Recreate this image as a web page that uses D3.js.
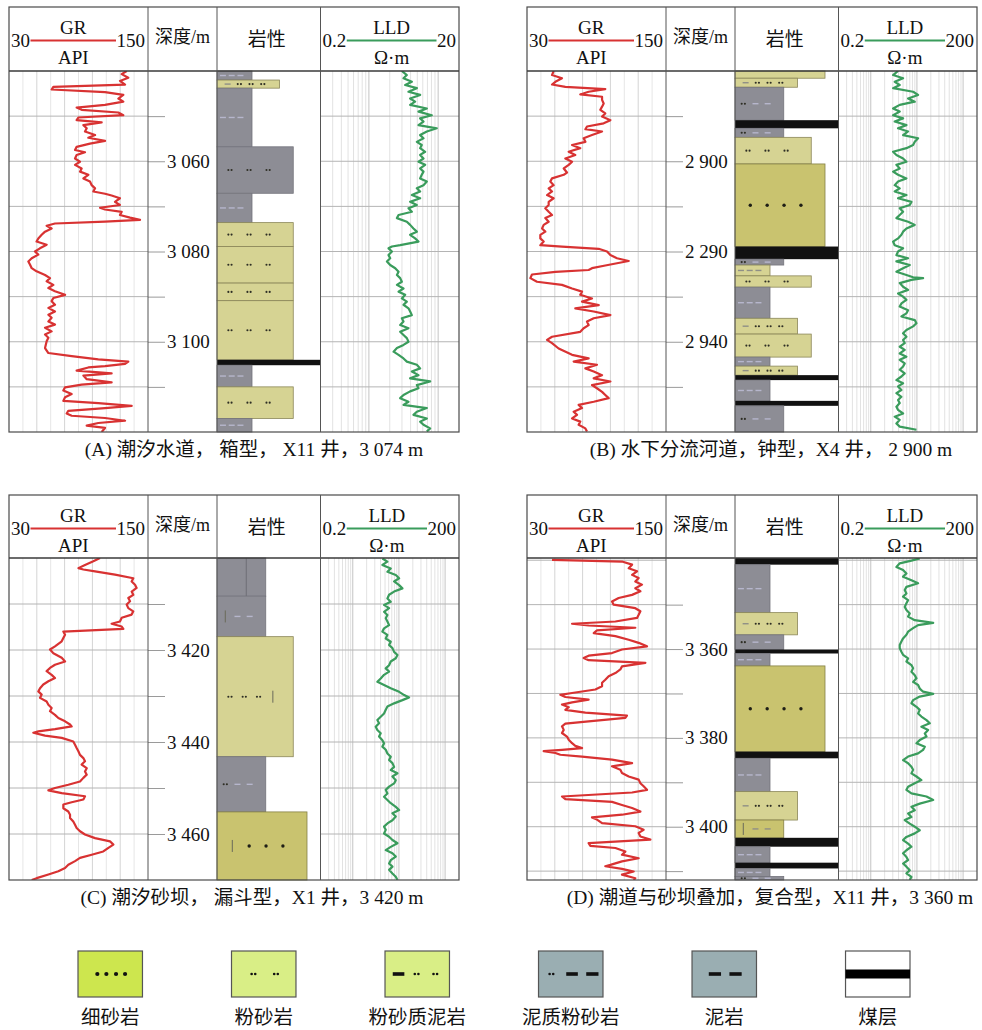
<!DOCTYPE html>
<html lang="zh">
<head>
<meta charset="utf-8">
<title>测井相模式</title>
<script src="https://cdn.jsdelivr.net/npm/d3@7/dist/d3.min.js"></script>
<style>
  html,body{margin:0;padding:0;background:#fff;}
  svg{display:block;}
</style>
</head>
<body>
<svg id="chart" width="982" height="1030"></svg>
<script>
// ================= well data =================
const captions = [
  "(A) 潮汐水道， 箱型， X11 井，3 074 m",
  "(B) 水下分流河道，钟型，X4 井， 2 900 m",
  "(C) 潮汐砂坝， 漏斗型，X1 井，3 420 m",
  "(D) 潮道与砂坝叠加，复合型，X11 井，3 360 m"
];
const grRange = [30, 150];
const grRangeLabels = ["30", "150"];
const lldRanges = [[0.2, 20], [0.2, 200], [0.2, 200], [0.2, 200]];
const lldRangeLabels = [["0.2", "20"], ["0.2", "200"], ["0.2", "200"], ["0.2", "200"]];

const depthA = [3040, 3120];
const depthB = [2880, 2960];
const depthC = [3400, 3470];
const depthD = [3339.5, 3412];

const majorA = [3060, 3080, 3100], majorLabelA = ["3 060", "3 080", "3 100"], minorA = [3050, 3070, 3090, 3110];
const majorB = [2900, 2920, 2940], majorLabelB = ["2 900", "2 290", "2 940"], minorB = [2890, 2910, 2930, 2950];
const majorC = [3420, 3440, 3460], majorLabelC = ["3 420", "3 440", "3 460"], minorC = [3410, 3430, 3450];
const majorD = [3360, 3380, 3400], majorLabelD = ["3 360", "3 380", "3 400"], minorD = [3350, 3370, 3390, 3410];

// GR curves: [depth m, GR API]
const grA = [[3040.0,131.6],[3040.7,127.3],[3041.5,133.0],[3042.2,125.8],[3043.0,130.2],[3043.5,68.3],[3044.1,66.8],[3044.7,112.9],[3045.3,128.7],[3046.1,124.4],[3046.8,128.7],[3047.5,112.9],[3048.1,88.4],[3048.6,92.7],[3049.2,124.4],[3049.8,128.7],[3050.3,89.9],[3050.9,88.4],[3051.4,110.0],[3052.0,94.2],[3052.7,97.1],[3053.4,95.6],[3054.2,104.3],[3054.8,98.5],[3055.5,112.9],[3056.1,99.9],[3056.8,88.4],[3057.5,87.0],[3058.0,95.6],[3058.6,88.4],[3059.4,87.0],[3060.1,91.3],[3060.8,87.0],[3061.6,92.7],[3062.3,91.3],[3063.0,98.5],[3063.8,94.2],[3064.5,99.9],[3065.3,101.4],[3066.0,104.3],[3066.7,102.8],[3067.2,112.9],[3067.6,118.6],[3068.2,125.8],[3069.0,121.5],[3069.7,125.8],[3070.3,108.6],[3070.7,112.9],[3071.2,127.3],[3071.9,125.8],[3072.5,134.5],[3073.0,143.1],[3073.4,112.9],[3073.8,69.7],[3074.3,62.5],[3074.9,66.8],[3075.6,61.1],[3076.3,58.2],[3077.1,55.3],[3077.8,53.8],[3078.5,62.5],[3079.3,56.7],[3080.0,52.4],[3080.7,55.3],[3081.5,49.6],[3082.2,46.7],[3082.9,48.1],[3083.7,49.6],[3084.4,53.8],[3085.2,61.1],[3085.9,65.4],[3086.6,62.5],[3087.4,68.3],[3088.1,64.0],[3088.8,69.7],[3089.6,78.4],[3090.3,68.3],[3091.0,66.8],[3091.8,69.7],[3092.5,64.0],[3093.3,69.7],[3094.0,64.0],[3094.7,66.8],[3095.5,64.0],[3096.2,69.7],[3096.9,61.1],[3097.7,66.8],[3098.4,61.1],[3099.1,64.0],[3099.9,62.5],[3101.4,61.1],[3102.5,64.0],[3103.2,84.1],[3103.9,107.1],[3104.4,133.0],[3104.9,130.2],[3105.4,112.9],[3105.7,98.5],[3106.4,88.4],[3107.0,118.6],[3107.5,94.2],[3108.3,97.1],[3109.0,118.6],[3109.5,92.7],[3110.1,78.4],[3110.8,76.9],[3111.6,84.1],[3112.3,78.4],[3113.1,76.9],[3113.6,107.1],[3114.2,135.9],[3114.7,112.9],[3115.3,81.2],[3115.9,79.8],[3116.4,84.1],[3116.9,112.9],[3117.5,130.2],[3118.0,107.1],[3118.6,97.1],[3119.1,112.9],[3120.0,110.0]];
const grB = [[2880.0,53.0],[2880.9,51.6],[2881.6,60.2],[2882.4,54.5],[2883.0,51.6],[2883.5,63.1],[2884.0,97.6],[2884.6,83.2],[2885.2,76.0],[2885.7,94.8],[2886.4,94.8],[2887.2,96.2],[2887.9,94.8],[2888.6,93.3],[2889.4,97.6],[2890.1,94.8],[2890.9,102.0],[2891.6,96.2],[2892.3,81.8],[2892.9,80.4],[2893.4,94.8],[2894.2,86.1],[2894.9,78.9],[2895.7,80.4],[2896.4,68.9],[2897.1,76.0],[2897.9,66.0],[2898.6,71.7],[2899.4,63.1],[2900.1,68.9],[2900.8,66.0],[2901.6,61.7],[2902.5,64.5],[2903.0,61.7],[2903.8,51.6],[2904.5,50.1],[2905.3,53.0],[2906.0,48.7],[2906.7,51.6],[2907.5,47.3],[2908.2,53.0],[2909.0,48.7],[2909.7,48.7],[2910.4,45.8],[2911.2,48.7],[2911.9,51.6],[2912.6,45.8],[2913.4,48.7],[2914.1,44.4],[2914.9,43.0],[2915.6,45.8],[2916.3,41.5],[2917.1,41.5],[2917.8,44.4],[2918.6,41.5],[2918.9,60.2],[2919.4,91.9],[2920.0,99.1],[2920.8,102.0],[2921.5,107.7],[2922.1,117.8],[2922.6,107.7],[2923.1,97.6],[2923.7,86.1],[2924.1,83.2],[2924.5,54.5],[2925.1,34.3],[2925.9,32.9],[2926.7,38.6],[2927.4,60.2],[2928.2,68.9],[2928.9,77.5],[2929.6,76.0],[2930.4,86.1],[2931.1,77.5],[2931.9,91.9],[2932.6,71.7],[2933.3,87.6],[2934.1,102.0],[2934.8,87.6],[2935.5,81.8],[2936.3,83.2],[2937.0,78.9],[2937.8,76.0],[2938.9,51.6],[2939.6,47.3],[2940.3,51.6],[2941.5,57.3],[2942.9,68.9],[2943.7,83.2],[2944.4,70.3],[2945.1,90.4],[2945.9,80.4],[2946.6,87.6],[2947.4,94.8],[2948.1,87.6],[2948.8,102.0],[2949.6,86.1],[2950.3,90.4],[2951.1,94.8],[2951.8,97.6],[2952.5,100.5],[2953.3,87.6],[2954.0,74.6],[2954.7,77.5],[2955.5,70.3],[2956.2,73.2],[2957.0,68.9],[2957.7,76.0],[2958.4,74.6],[2959.2,80.4],[2959.9,81.8]];
const grC = [[3400.0,108.6],[3400.7,102.8],[3401.5,95.6],[3402.2,89.9],[3402.5,94.2],[3402.9,104.3],[3403.6,121.5],[3404.4,137.3],[3405.1,135.9],[3405.8,138.8],[3406.5,140.2],[3407.3,135.9],[3408.0,137.3],[3408.7,133.0],[3409.4,134.5],[3410.1,131.6],[3410.9,133.0],[3411.6,137.3],[3412.3,135.9],[3413.0,127.3],[3413.8,125.8],[3414.3,118.6],[3414.9,127.3],[3415.4,128.7],[3416.0,76.9],[3416.7,78.4],[3417.4,76.9],[3418.1,75.5],[3419.2,69.7],[3419.9,65.4],[3420.7,68.3],[3421.7,75.5],[3422.5,78.4],[3423.2,69.7],[3423.9,65.4],[3424.6,62.5],[3425.4,66.8],[3426.1,69.7],[3426.8,64.0],[3427.5,59.6],[3428.3,56.8],[3429.0,55.3],[3429.7,58.2],[3430.4,56.8],[3431.2,62.5],[3431.9,64.0],[3432.6,66.8],[3433.3,65.4],[3434.1,69.7],[3434.8,72.6],[3435.5,78.4],[3436.2,82.7],[3436.6,84.1],[3437.2,69.7],[3437.7,55.3],[3438.0,51.0],[3438.6,61.1],[3439.1,75.5],[3439.9,85.5],[3440.6,87.0],[3441.3,88.4],[3442.0,89.9],[3442.8,91.3],[3443.5,94.2],[3444.2,95.6],[3444.9,92.7],[3445.7,97.1],[3446.4,95.6],[3447.1,97.1],[3447.8,94.2],[3448.6,91.3],[3449.3,81.2],[3450.0,69.7],[3450.5,64.0],[3451.1,75.5],[3451.8,95.6],[3452.5,94.2],[3453.1,84.1],[3453.6,76.9],[3454.4,76.9],[3455.1,81.2],[3455.8,82.7],[3456.5,82.7],[3457.3,85.5],[3458.0,87.0],[3458.7,88.4],[3459.4,91.3],[3460.1,95.6],[3460.9,104.3],[3461.6,117.2],[3462.3,120.1],[3463.0,115.8],[3463.8,111.4],[3464.5,101.4],[3465.2,91.3],[3465.9,87.0],[3466.7,81.2],[3467.4,78.4],[3468.1,72.6],[3468.8,64.0],[3469.6,53.9],[3470.0,49.6]];
const grD = [[3339.9,51.6],[3340.3,112.0],[3341.0,120.7],[3341.8,117.8],[3342.5,125.0],[3343.3,120.7],[3344.0,126.4],[3344.8,123.5],[3345.5,129.3],[3346.3,123.5],[3347.0,127.9],[3347.8,120.7],[3348.5,109.1],[3349.3,103.4],[3350.0,104.8],[3350.8,123.5],[3351.5,127.9],[3352.3,126.4],[3353.0,125.0],[3353.8,106.3],[3354.3,68.9],[3354.7,83.2],[3355.2,123.5],[3355.8,90.4],[3356.4,87.6],[3357.1,106.3],[3357.9,117.8],[3358.6,126.4],[3359.4,133.6],[3360.1,112.0],[3360.9,103.4],[3361.5,83.2],[3362.0,78.9],[3362.5,83.2],[3363.1,132.2],[3363.9,112.0],[3364.6,110.6],[3365.4,106.3],[3366.1,100.5],[3366.9,97.6],[3367.6,94.8],[3368.4,94.8],[3369.1,89.0],[3369.9,68.9],[3370.3,58.8],[3370.8,63.1],[3371.4,83.2],[3372.0,68.9],[3372.5,60.2],[3373.1,66.0],[3373.7,63.1],[3374.3,80.4],[3375.0,116.3],[3375.5,114.9],[3376.3,83.2],[3376.8,63.1],[3377.4,60.2],[3378.2,61.7],[3378.9,60.2],[3379.7,64.5],[3380.4,66.0],[3381.2,68.9],[3381.8,71.7],[3382.3,77.5],[3382.7,60.2],[3383.0,44.4],[3383.4,54.5],[3383.8,58.8],[3384.2,77.5],[3384.9,103.4],[3385.7,120.7],[3386.4,103.4],[3387.2,110.6],[3387.9,112.0],[3388.7,117.8],[3389.4,126.4],[3390.2,127.9],[3390.9,130.7],[3391.7,133.6],[3392.3,120.7],[3393.2,60.2],[3393.8,63.1],[3394.4,103.4],[3395.1,112.0],[3395.8,120.7],[3396.6,127.9],[3397.3,112.0],[3397.9,86.1],[3398.4,90.4],[3399.2,94.8],[3399.9,123.5],[3400.7,130.7],[3401.4,126.4],[3402.2,127.9],[3402.9,136.5],[3403.7,83.2],[3404.3,84.7],[3404.8,106.3],[3405.6,114.9],[3406.3,112.0],[3407.1,126.4],[3407.8,112.0],[3408.6,102.0],[3408.9,97.6],[3409.5,112.0],[3410.1,122.1],[3410.8,112.0],[3411.6,123.5],[3412.0,122.1]];

// LLD curves: [depth m, resistivity Ω·m]
const lldA = [[3040.0,2.99],[3040.9,3.53],[3041.6,3.16],[3042.4,4.17],[3043.1,3.34],[3043.8,4.92],[3044.6,3.73],[3045.3,5.49],[3046.1,3.94],[3046.8,4.65],[3047.5,3.94],[3048.3,6.86],[3049.0,5.20],[3049.8,8.09],[3050.5,5.49],[3051.2,6.14],[3052.0,5.20],[3052.7,9.55],[3053.4,6.86],[3054.2,5.49],[3054.9,6.14],[3055.7,4.92],[3056.4,5.80],[3057.1,5.49],[3057.9,6.49],[3058.6,5.49],[3059.4,6.14],[3060.1,5.20],[3060.8,6.49],[3061.6,5.49],[3062.3,6.14],[3063.0,5.80],[3063.8,5.49],[3064.5,6.86],[3065.3,6.14],[3066.0,4.92],[3066.7,5.49],[3067.5,4.17],[3068.2,5.49],[3069.0,3.94],[3069.7,4.92],[3070.4,3.73],[3071.2,4.17],[3071.9,2.68],[3072.6,2.54],[3073.4,3.53],[3074.1,3.94],[3074.9,4.40],[3075.6,4.92],[3076.3,3.94],[3077.1,4.65],[3077.8,5.20],[3078.6,2.83],[3078.9,2.15],[3079.3,1.92],[3080.0,2.15],[3080.8,1.92],[3081.5,2.03],[3082.2,1.82],[3083.0,2.03],[3083.7,2.40],[3084.5,2.68],[3085.2,2.54],[3085.9,2.83],[3086.7,2.99],[3087.4,2.54],[3088.2,3.16],[3088.9,2.68],[3089.6,3.34],[3090.4,2.99],[3091.1,3.53],[3091.8,3.16],[3092.6,3.73],[3093.3,3.94],[3094.1,4.17],[3094.8,2.99],[3095.5,3.16],[3096.3,2.83],[3097.0,3.73],[3097.8,2.83],[3098.5,3.16],[3099.2,3.53],[3100.0,3.73],[3100.7,3.16],[3101.4,2.54],[3102.2,2.27],[3102.9,2.68],[3103.7,3.16],[3104.4,3.53],[3105.1,4.92],[3105.9,5.49],[3106.6,4.17],[3107.4,5.20],[3108.1,3.94],[3108.8,7.66],[3109.6,4.92],[3110.3,5.20],[3111.0,3.94],[3111.8,3.16],[3112.5,2.83],[3113.3,3.73],[3114.0,3.16],[3114.7,6.86],[3115.5,4.92],[3116.2,4.40],[3117.0,6.86],[3117.7,5.49],[3118.4,6.14],[3119.2,7.66],[3119.9,6.86]];
const lldB = [[2880.0,3.90],[2880.9,3.04],[2881.6,5.01],[2882.4,3.30],[2883.1,4.24],[2883.8,3.04],[2884.6,8.26],[2885.3,10.6],[2886.1,6.43],[2886.8,8.98],[2887.5,4.24],[2888.3,3.04],[2889.0,4.24],[2889.8,3.04],[2890.5,5.01],[2891.2,3.30],[2892.0,5.92],[2892.7,3.90],[2893.4,6.43],[2894.2,5.01],[2894.9,10.6],[2895.7,8.98],[2896.4,8.26],[2897.1,5.92],[2897.9,3.04],[2898.6,3.59],[2899.4,5.01],[2900.1,5.92],[2900.8,3.59],[2901.6,4.24],[2902.3,3.04],[2903.0,3.90],[2903.8,5.92],[2904.5,3.90],[2905.3,3.30],[2906.0,4.24],[2906.7,3.30],[2907.5,5.92],[2908.2,3.90],[2909.0,7.60],[2909.7,6.99],[2910.4,4.24],[2911.2,5.01],[2911.9,4.24],[2912.6,3.59],[2913.4,6.43],[2914.1,8.98],[2914.9,5.92],[2915.6,5.01],[2916.3,4.61],[2917.1,3.90],[2917.8,3.04],[2918.6,3.30],[2919.3,5.01],[2920.0,3.90],[2920.8,3.59],[2921.5,6.43],[2922.2,3.59],[2923.0,6.99],[2923.7,5.01],[2924.5,3.59],[2925.2,5.92],[2925.7,8.26],[2925.9,13.6],[2926.3,7.60],[2927.0,4.24],[2927.8,5.01],[2928.5,6.43],[2929.3,3.90],[2930.0,5.01],[2930.7,5.92],[2931.5,4.61],[2932.2,4.24],[2933.0,6.43],[2933.7,5.92],[2934.4,4.61],[2935.2,8.98],[2935.9,9.76],[2936.6,8.26],[2937.4,5.92],[2938.1,5.01],[2938.9,5.92],[2939.6,5.01],[2940.3,5.44],[2941.1,4.24],[2941.8,5.44],[2942.6,4.24],[2943.3,5.92],[2944.0,4.24],[2944.8,5.44],[2945.5,5.01],[2946.2,4.24],[2947.0,5.44],[2947.7,4.61],[2948.5,3.59],[2949.2,5.01],[2949.9,3.90],[2950.7,4.61],[2951.4,3.59],[2952.2,4.61],[2952.9,3.90],[2953.6,4.24],[2954.4,3.59],[2955.1,3.90],[2955.9,5.01],[2956.6,3.30],[2957.3,4.24],[2958.1,3.59],[2958.8,4.24],[2959.5,9.76]];
const lldC = [[3400.1,4.38],[3400.8,5.63],[3401.5,4.38],[3402.3,6.65],[3403.0,5.63],[3403.7,8.54],[3404.4,10.1],[3405.1,7.86],[3405.9,10.1],[3406.6,11.9],[3407.3,7.86],[3408.0,6.12],[3408.8,5.63],[3409.5,6.65],[3410.2,4.76],[3410.9,6.12],[3411.7,4.76],[3412.4,5.63],[3413.1,5.18],[3413.8,5.63],[3414.6,6.12],[3415.3,4.76],[3416.0,4.38],[3416.7,5.63],[3417.5,5.18],[3418.2,6.65],[3418.9,6.12],[3419.6,7.23],[3420.4,7.86],[3421.1,9.29],[3421.8,8.54],[3422.5,6.65],[3423.3,6.12],[3424.0,5.18],[3424.7,6.12],[3425.4,4.76],[3426.2,4.03],[3426.9,3.41],[3427.6,4.76],[3428.3,6.65],[3429.1,10.1],[3429.8,13.0],[3430.3,16.6],[3430.9,11.9],[3431.6,7.86],[3432.3,5.63],[3433.0,5.18],[3433.8,4.76],[3434.5,4.03],[3435.2,3.41],[3435.9,3.71],[3436.7,3.14],[3437.4,3.41],[3438.1,4.03],[3438.8,3.71],[3439.6,4.38],[3440.3,4.76],[3441.0,4.38],[3441.7,5.18],[3442.5,5.63],[3443.2,6.65],[3443.9,6.12],[3444.6,7.23],[3445.4,7.86],[3446.1,6.65],[3446.8,9.29],[3447.5,7.23],[3448.3,8.54],[3449.0,7.86],[3449.7,6.12],[3450.4,5.18],[3451.2,5.63],[3451.9,4.76],[3452.6,5.63],[3453.3,6.65],[3454.1,8.54],[3454.8,10.1],[3455.5,7.23],[3456.2,8.54],[3457.0,7.23],[3457.7,5.63],[3458.4,4.76],[3459.1,5.18],[3459.9,4.76],[3460.6,6.12],[3461.3,7.23],[3462.0,9.29],[3462.8,6.65],[3463.5,5.18],[3464.2,7.23],[3464.9,8.54],[3465.7,6.65],[3466.4,6.12],[3467.1,7.23],[3467.8,6.12],[3468.6,7.23],[3469.3,8.54],[3470.0,9.29]];
const lldD = [[3339.6,11.5],[3340.1,7.60],[3340.7,4.24],[3341.5,3.59],[3342.2,5.01],[3343.0,5.92],[3343.7,5.01],[3344.5,7.60],[3345.2,10.6],[3346.0,5.92],[3346.7,5.44],[3347.5,5.92],[3348.2,5.01],[3349.0,6.43],[3349.7,5.92],[3350.5,5.44],[3351.2,5.92],[3352.0,6.99],[3352.7,6.43],[3353.5,8.98],[3354.1,22.5],[3354.6,10.6],[3355.3,8.26],[3356.1,6.43],[3356.8,5.92],[3357.6,5.01],[3358.3,4.61],[3359.1,4.24],[3359.8,4.24],[3360.6,4.61],[3361.3,5.01],[3362.1,6.43],[3362.8,5.92],[3363.6,7.60],[3364.3,8.26],[3365.1,7.60],[3365.9,8.98],[3366.6,9.76],[3367.4,8.26],[3368.1,10.6],[3368.9,11.5],[3369.6,13.6],[3370.1,22.5],[3370.7,11.5],[3371.5,8.26],[3372.2,7.60],[3373.0,9.76],[3373.7,11.5],[3374.5,10.6],[3375.2,12.5],[3376.0,16.1],[3376.7,19.0],[3377.5,12.5],[3378.2,17.5],[3379.0,14.8],[3379.7,16.1],[3380.5,11.5],[3381.2,9.76],[3382.0,14.8],[3382.7,13.6],[3383.5,10.6],[3384.2,6.43],[3385.0,5.01],[3385.7,6.43],[3386.5,7.60],[3387.2,8.26],[3388.0,7.60],[3388.7,9.76],[3389.5,12.5],[3390.2,8.98],[3391.0,6.43],[3391.7,5.92],[3392.5,7.60],[3393.2,16.1],[3394.0,22.5],[3394.8,11.5],[3395.5,7.60],[3396.3,8.98],[3397.0,6.43],[3397.8,7.60],[3398.5,5.44],[3399.3,6.99],[3400.0,8.98],[3400.8,11.5],[3401.5,8.98],[3402.3,5.92],[3403.0,5.01],[3403.8,6.43],[3404.5,7.60],[3405.3,5.92],[3406.0,5.01],[3406.8,5.92],[3407.5,6.43],[3408.3,5.01],[3409.0,5.92],[3409.8,6.99],[3410.5,5.92],[3411.3,7.60],[3412.0,6.99]];

// Lithology intervals: [top m, base m, rock code]
const lithA = [[3040.0,3042.0,"mud"],[3042.0,3043.8,"siltMud"],[3043.8,3056.8,"mud"],[3056.8,3067.1,"siltGray"],[3067.1,3073.6,"mud"],[3073.6,3078.9,"silt"],[3078.9,3087.0,"silt"],[3087.0,3090.9,"silt"],[3090.9,3104.0,"silt"],[3104.0,3105.2,"coal"],[3105.2,3110.0,"mud"],[3110.0,3117.0,"silt"],[3117.0,3120.0,"mud"]];
const lithB = [[2880.0,2881.6,"fineLight"],[2881.6,2883.6,"siltMud"],[2883.6,2890.9,"mudSilt"],[2890.9,2892.7,"coal"],[2892.7,2894.7,"mudSilt"],[2894.7,2900.6,"silt"],[2900.6,2918.9,"fine"],[2918.9,2921.7,"coal"],[2921.7,2923.0,"mudSilt"],[2923.0,2925.4,"mudLight"],[2925.4,2927.9,"silt"],[2927.9,2934.8,"mud"],[2934.8,2938.3,"siltMud"],[2938.3,2943.4,"silt"],[2943.4,2945.4,"mud"],[2945.4,2947.4,"siltMud"],[2947.4,2948.5,"coal"],[2948.5,2953.1,"mud"],[2953.1,2954.2,"coal"],[2954.2,2960.0,"mudSilt"]];
const lithC = [[3400.0,3408.3,"mudSiltSplit"],[3408.3,3417.1,"mudSiltBar"],[3417.1,3443.2,"siltBar"],[3443.2,3455.2,"mudSilt"],[3455.2,3470.0,"fineBar"]];
const lithD = [[3339.5,3341.0,"coal"],[3341.0,3351.8,"mud"],[3351.8,3356.8,"siltMud"],[3356.8,3360.1,"mudSilt"],[3360.1,3361.0,"coal"],[3361.0,3363.8,"mud"],[3363.8,3383.1,"fine"],[3383.1,3384.6,"coal"],[3384.6,3392.1,"mud"],[3392.1,3398.5,"siltMud"],[3398.5,3402.5,"mudSiltOlive"],[3402.5,3404.5,"coal"],[3404.5,3408.1,"mud"],[3408.1,3409.4,"coal"],[3409.4,3411.2,"mud"],[3411.2,3412.0,"mudSilt"]];

const legendNames = ["细砂岩", "粉砂岩", "粉砂质泥岩", "泥质粉砂岩", "泥岩", "煤层"];

// ================= styling / layout =================
const SERIF = "'Liberation Serif','Times New Roman',serif";
const MIXED = "'Liberation Serif','Noto Sans CJK SC',serif";
const GR_COLOR = "#d83232";
const LLD_COLOR = "#3a9c5c";
const TONES = { gray: "#8d8d95", khaki: "#d6d393", olive: "#c9c36f", coal: "#111" };
const TONE_STROKE = { gray: "#74747c", khaki: "#8a8658", olive: "#858046", coal: "#111" };

// grain class -> block width; motif tokens: d = dot pair, D = dot, - = dash, | = bar
const ROCK = {
  mud:          { grain: 1, tone: "gray",  motif: "---" },
  mudLight:     { grain: 1, tone: "khaki", motif: "---" },
  mudSilt:      { grain: 2, tone: "gray",  motif: "d--" },
  mudSiltBar:   { grain: 2, tone: "gray",  motif: "|--" },
  mudSiltSplit: { grain: 2, tone: "gray",  motif: "", split: true },
  mudSiltOlive: { grain: 2, tone: "olive", motif: "|--" },
  siltMud:      { grain: 3, tone: "khaki", motif: "-ddd" },
  silt:         { grain: 4, tone: "khaki", motif: "ddd" },
  siltBar:      { grain: 4, tone: "khaki", motif: "ddd|" },
  siltGray:     { grain: 4, tone: "gray",  motif: "ddd" },
  fine:         { grain: 5, tone: "olive", motif: "DDDD" },
  fineBar:      { grain: 5, tone: "olive", motif: "|DDD" },
  fineLight:    { grain: 5, tone: "khaki", motif: "" },
  coal:         { grain: 6, tone: "coal",  motif: "" }
};

const panels = [
  { x: 9,   y: 7,   head: 64, bottom: 432, depth: depthA, major: majorA, majorLabel: majorLabelA, minor: minorA, gr: grA, lld: lldA, lith: lithA, lldRange: lldRanges[0], lldLabels: lldRangeLabels[0], caption: captions[0], capX: 254, capY: 456 },
  { x: 527, y: 7,   head: 64, bottom: 432, depth: depthB, major: majorB, majorLabel: majorLabelB, minor: minorB, gr: grB, lld: lldB, lith: lithB, lldRange: lldRanges[1], lldLabels: lldRangeLabels[1], caption: captions[1], capX: 771, capY: 456 },
  { x: 9,   y: 495, head: 63, bottom: 880, depth: depthC, major: majorC, majorLabel: majorLabelC, minor: minorC, gr: grC, lld: lldC, lith: lithC, lldRange: lldRanges[2], lldLabels: lldRangeLabels[2], caption: captions[2], capX: 252, capY: 904 },
  { x: 527, y: 495, head: 63, bottom: 880, depth: depthD, major: majorD, majorLabel: majorLabelD, minor: minorD, gr: grD, lld: lldD, lith: lithD, lldRange: lldRanges[3], lldLabels: lldRangeLabels[3], caption: captions[3], capX: 770, capY: 904 }
];

const svg = d3.select("#chart");
svg.append("rect").attr("width", 982).attr("height", 1030).attr("fill", "#fff");
const defs = svg.append("defs");

function drawMotif(g, motif, x, w, cy, tone) {
  const n = motif.length;
  if (!n) return;
  const step = w * 0.75 / n;
  const dark = "#2e2e24";
  const dashCol = tone === "gray" ? "#b6b6cc" : "#8f8f86";
  motif.split("").forEach((t, i) => {
    const cx = x + w * 0.17 + i * step;
    if (t === "d") {
      [-1.6, 1.6].forEach(o => g.append("circle").attr("cx", cx + o).attr("cy", cy).attr("r", 1.05).attr("fill", dark));
    } else if (t === "D") {
      g.append("circle").attr("cx", cx).attr("cy", cy).attr("r", 1.7).attr("fill", "#1e1e16");
    } else if (t === "-") {
      g.append("line").attr("x1", cx - 3).attr("x2", cx + 3).attr("y1", cy).attr("y2", cy)
        .attr("stroke", dashCol).attr("stroke-width", 1.4);
    } else if (t === "|") {
      g.append("line").attr("x1", cx).attr("x2", cx).attr("y1", cy - 6).attr("y2", cy + 6)
        .attr("stroke", "#6a6a5a").attr("stroke-width", 1);
    }
  });
}

function drawPanel(p, idx) {
  const g = svg.append("g");
  const cols = [p.x, p.x + 139, p.x + 208, p.x + 311.5, p.x + 450];
  const yTop = p.y, yHead = p.y + p.head, yBot = p.bottom;

  const y = d3.scaleLinear().domain(p.depth).range([yHead, yBot]);
  const xGR = d3.scaleLinear().domain(grRange).range([cols[0], cols[1]]);
  const xLLD = d3.scaleLog().domain(p.lldRange).range([cols[3], cols[4]]);
  const wGrain = d3.scaleLinear().domain([1, 5]).range([35, 90]);

  const gridDepths = d3.range(Math.ceil(p.depth[0] / 10) * 10, p.depth[1], 10).filter(d => d > p.depth[0]);

  // ---- GR track grid ----
  const grTicks = d3.range(grRange[0] + 12, grRange[1], 12);
  g.selectAll(null).data(grTicks).join("line")
    .attr("x1", d => xGR(d)).attr("x2", d => xGR(d)).attr("y1", yHead).attr("y2", yBot)
    .attr("stroke", (d, i) => i % 2 ? "#d4d4d4" : "#e6e6e6").attr("stroke-width", 1);
  g.selectAll(null).data(gridDepths).join("line")
    .attr("x1", cols[0]).attr("x2", cols[1]).attr("y1", d => y(d)).attr("y2", d => y(d))
    .attr("stroke", "#b4b4b4").attr("stroke-width", 1);

  // ---- LLD track grid (logarithmic) ----
  const logLines = [];
  for (let k = Math.floor(Math.log10(p.lldRange[0])); k <= Math.ceil(Math.log10(p.lldRange[1])); k++) {
    for (let m = 1; m <= 9; m++) {
      const v = m * Math.pow(10, k);
      if (v > p.lldRange[0] * 1.0001 && v < p.lldRange[1] * 0.9999) logLines.push({ v, major: m === 1 });
    }
  }
  g.selectAll(null).data(logLines).join("line")
    .attr("x1", d => xLLD(d.v)).attr("x2", d => xLLD(d.v)).attr("y1", yHead).attr("y2", yBot)
    .attr("stroke", d => d.major ? "#c4c4c4" : "#e2e2e2").attr("stroke-width", 1);
  g.selectAll(null).data(gridDepths).join("line")
    .attr("x1", cols[3]).attr("x2", cols[4]).attr("y1", d => y(d)).attr("y2", d => y(d))
    .attr("stroke", "#b4b4b4").attr("stroke-width", 1);

  // ---- depth track ----
  const minorAxis = d3.axisRight(y).tickValues(p.minor).tickSize(17).tickFormat("");
  const majorAxis = d3.axisRight(y).tickValues(p.major).tickSize(17).tickPadding(2)
    .tickFormat((d, i) => p.majorLabel[i]);
  const gMinor = g.append("g").attr("transform", `translate(${cols[1]},0)`).call(minorAxis);
  const gMajor = g.append("g").attr("transform", `translate(${cols[1]},0)`).call(majorAxis);
  [gMinor, gMajor].forEach(a => {
    a.select(".domain").remove();
    a.selectAll(".tick line").attr("stroke", "#9a9a9a").attr("stroke-width", 1);
  });
  gMajor.selectAll(".tick text").attr("font-family", SERIF).attr("font-size", 19).attr("fill", "#111");

  // ---- lithology column ----
  const gl = g.append("g");
  p.lith.forEach(([top, base, code]) => {
    const r = ROCK[code];
    const y0 = y(top), y1 = y(base);
    const w = r.tone === "coal" ? (cols[3] - cols[2]) : wGrain(r.grain);
    gl.append("rect").attr("x", cols[2]).attr("y", y0).attr("width", w).attr("height", Math.max(0.5, y1 - y0))
      .attr("fill", TONES[r.tone]).attr("stroke", TONE_STROKE[r.tone]).attr("stroke-width", r.tone === "coal" ? 0 : 0.8);
    if (r.split) {
      gl.append("line").attr("x1", cols[2] + w * 0.6).attr("x2", cols[2] + w * 0.6).attr("y1", y0).attr("y2", y1)
        .attr("stroke", "#6e6e76").attr("stroke-width", 1);
    }
    drawMotif(gl, r.motif, cols[2], w, (y0 + y1) / 2, r.tone);
  });

  // ---- curves ----
  const clipGR = `clipGR${idx}`, clipLLD = `clipLLD${idx}`;
  defs.append("clipPath").attr("id", clipGR).append("rect")
    .attr("x", cols[0]).attr("y", yHead).attr("width", cols[1] - cols[0]).attr("height", yBot - yHead);
  defs.append("clipPath").attr("id", clipLLD).append("rect")
    .attr("x", cols[3]).attr("y", yHead).attr("width", cols[4] - cols[3]).attr("height", yBot - yHead);

  g.append("path").datum(p.gr).attr("clip-path", `url(#${clipGR})`)
    .attr("d", d3.line().x(d => xGR(d[1])).y(d => y(d[0])))
    .attr("fill", "none").attr("stroke", GR_COLOR).attr("stroke-width", 2.2).attr("stroke-linejoin", "round");
  g.append("path").datum(p.lld).attr("clip-path", `url(#${clipLLD})`)
    .attr("d", d3.line().x(d => xLLD(d[1])).y(d => y(d[0])))
    .attr("fill", "none").attr("stroke", LLD_COLOR).attr("stroke-width", 2.2).attr("stroke-linejoin", "round");

  // ---- frame ----
  g.append("rect").attr("x", cols[0]).attr("y", yTop).attr("width", cols[4] - cols[0]).attr("height", yBot - yTop)
    .attr("fill", "none").attr("stroke", "#4a4a4a").attr("stroke-width", 1.2);
  g.append("line").attr("x1", cols[0]).attr("x2", cols[4]).attr("y1", yHead).attr("y2", yHead)
    .attr("stroke", "#3a3a3a").attr("stroke-width", 1.6);
  [cols[1], cols[2], cols[3]].forEach(cx => {
    g.append("line").attr("x1", cx).attr("x2", cx).attr("y1", yTop).attr("y2", yBot)
      .attr("stroke", "#555").attr("stroke-width", 1);
  });

  // ---- header ----
  function curveHeader(x0, x1, leftLab, rightLab, title, unit, color) {
    const lineY = yTop + 33.5;
    const tl = g.append("text").attr("x", x0 + 2).attr("y", yTop + 40).attr("font-family", SERIF)
      .attr("font-size", 19).attr("fill", "#111").text(leftLab);
    const tr = g.append("text").attr("x", x1 - 3).attr("y", yTop + 40).attr("text-anchor", "end")
      .attr("font-family", SERIF).attr("font-size", 19).attr("fill", "#111").text(rightLab);
    const lx0 = x0 + 2 + tl.node().getComputedTextLength() + 0.5;
    const lx1 = x1 - 3 - tr.node().getComputedTextLength() - 0.5;
    g.append("line").attr("x1", lx0).attr("x2", lx1).attr("y1", lineY).attr("y2", lineY)
      .attr("stroke", color).attr("stroke-width", 2);
    const mid = (lx0 + lx1) / 2;
    g.append("text").attr("x", mid).attr("y", yTop + 27).attr("text-anchor", "middle")
      .attr("font-family", SERIF).attr("font-size", 19).attr("fill", "#111").text(title);
    g.append("text").attr("x", mid).attr("y", yTop + 57).attr("text-anchor", "middle")
      .attr("font-family", SERIF).attr("font-size", 19).attr("fill", "#111").text(unit);
  }
  curveHeader(cols[0], cols[1], grRangeLabels[0], grRangeLabels[1], "GR", "API", GR_COLOR);
  curveHeader(cols[3], cols[4], p.lldLabels[0], p.lldLabels[1], "LLD", "Ω·m", LLD_COLOR);
  g.append("text").attr("x", (cols[1] + cols[2]) / 2).attr("y", yTop + 36).attr("text-anchor", "middle")
    .attr("font-family", MIXED).attr("font-size", 18).attr("fill", "#111").text("深度/m");
  g.append("text").attr("x", (cols[2] + cols[3]) / 2 - 2).attr("y", yTop + 39).attr("text-anchor", "middle")
    .attr("font-family", MIXED).attr("font-size", 19).attr("fill", "#111").text("岩性");

  // ---- caption ----
  svg.append("text").attr("x", p.capX).attr("y", p.capY).attr("text-anchor", "middle")
    .attr("font-family", MIXED).attr("font-size", 19.5).attr("fill", "#111").text(p.caption);
}

panels.forEach(drawPanel);

// ================= legend =================
const legendFill = ["#cde64e", "#d9ee86", "#d9ee86", "#9aaeb2", "#9aaeb2", "#ffffff"];
// token: [kind, relative x start, relative x end]
const legendMotif = [
  [["D", 0.30], ["D", 0.44], ["D", 0.59], ["D", 0.73]],
  [["d", 0.34], ["d", 0.69]],
  [["-", 0.12, 0.30], ["d", 0.49], ["d", 0.78]],
  [["d", 0.20], ["-", 0.43, 0.61], ["-", 0.74, 0.93]],
  [["-", 0.26, 0.45], ["-", 0.58, 0.77]],
  [["coal"]]
];
const lx = d3.scaleBand().domain(legendNames).range([78, 910]).paddingInner(0.58).paddingOuter(0);
const LY = 951, LH = 46;
const gLeg = svg.append("g");
legendNames.forEach((name, i) => {
  const x0 = lx(name), w = lx.bandwidth();
  const cy = LY + LH / 2;
  gLeg.append("rect").attr("x", x0).attr("y", LY).attr("width", w).attr("height", LH)
    .attr("fill", legendFill[i]).attr("stroke", "#555").attr("stroke-width", 1.2);
  legendMotif[i].forEach(t => {
    if (t[0] === "D") {
      gLeg.append("circle").attr("cx", x0 + w * t[1]).attr("cy", cy).attr("r", 2.1).attr("fill", "#111");
    } else if (t[0] === "d") {
      [-1.8, 1.8].forEach(o => gLeg.append("circle").attr("cx", x0 + w * t[1] + o).attr("cy", cy).attr("r", 1.3).attr("fill", "#111"));
    } else if (t[0] === "-") {
      gLeg.append("rect").attr("x", x0 + w * t[1]).attr("y", cy - 1.8).attr("width", w * (t[2] - t[1])).attr("height", 3.6).attr("fill", "#111");
    } else if (t[0] === "coal") {
      gLeg.append("rect").attr("x", x0).attr("y", cy - 4.5).attr("width", w).attr("height", 9).attr("fill", "#000");
    }
  });
  gLeg.append("text").attr("x", x0 + w / 2).attr("y", 1024).attr("text-anchor", "middle")
    .attr("font-family", MIXED).attr("font-size", 19.5).attr("fill", "#111").text(name);
});
</script>
</body>
</html>
